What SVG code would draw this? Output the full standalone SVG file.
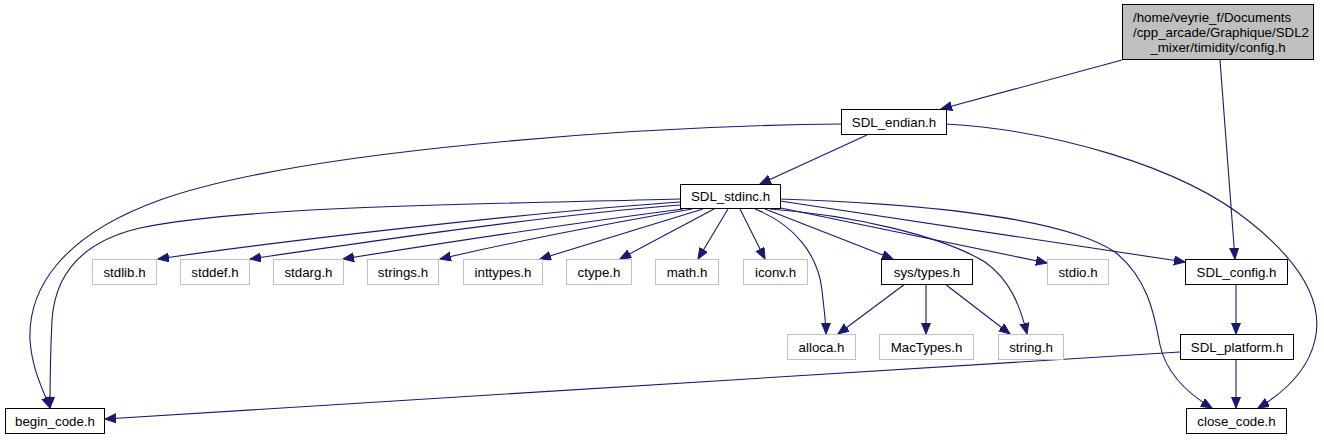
<svg xmlns="http://www.w3.org/2000/svg" width="1324" height="440" viewBox="0 0 1324 440">
<style>
.n rect{fill:#fff;stroke:#000;stroke-width:1}
.g rect{fill:#fff;stroke:#bfbfbf;stroke-width:1}
.r rect{fill:#bfbfbf;stroke:#000;stroke-width:1}
text{font-family:"Liberation Sans",Arial,sans-serif;font-size:13.3px;fill:#000}
.c{text-anchor:middle}
#edges path{fill:none;stroke:#191970;stroke-width:1.1}
</style>
<defs>
<marker id="ah" markerUnits="userSpaceOnUse" markerWidth="12" markerHeight="10" refX="11" refY="4.5" orient="auto">
<path d="M0,0 L11,4.5 L0,9 z" fill="#191970" stroke="#191970" stroke-width="1"/>
</marker>
</defs>
<rect width="1324" height="440" fill="#fff"/>
<g id="edges">
<path marker-end="url(#ah)" d="M1122,60 L941,109"/>
<path marker-end="url(#ah)" d="M1220,60 L1235,259"/>
<path marker-end="url(#ah)" d="M841,124 C640,126 300,150 160,200 C60,236 28,290 30,340 C32,370 44,392 50,408"/>
<path marker-end="url(#ah)" d="M680,199 C500,204 250,205 140,228 C80,242 55,275 52,320 C50,360 50,390 50,408"/>
<path marker-end="url(#ah)" d="M946,124 C1050,130 1180,165 1250,222 C1310,270 1322,310 1315,340 C1308,370 1285,392 1258,408"/>
<path marker-end="url(#ah)" d="M867,135 L760,184"/>
<path marker-end="url(#ah)" d="M680,202 C560,210 300,238 158,259"/>
<path marker-end="url(#ah)" d="M680,205 C550,215 380,240 250,259"/>
<path marker-end="url(#ah)" d="M683,209 C560,225 430,245 343,259"/>
<path marker-end="url(#ah)" d="M692,209 C600,225 500,245 440,259"/>
<path marker-end="url(#ah)" d="M703,209 L540,259"/>
<path marker-end="url(#ah)" d="M714,209 L620,259"/>
<path marker-end="url(#ah)" d="M728,209 L698,259"/>
<path marker-end="url(#ah)" d="M740,209 L765,259"/>
<path marker-end="url(#ah)" d="M755,209 C795,225 818,255 822,290 C824,310 826,322 826,334"/>
<path marker-end="url(#ah)" d="M765,209 L893,259"/>
<path marker-end="url(#ah)" d="M776,207 L1047,263"/>
<path marker-end="url(#ah)" d="M780,201 L1185,262"/>
<path marker-end="url(#ah)" d="M770,209 C850,215 940,235 985,262 C1010,280 1020,305 1027,334"/>
<path marker-end="url(#ah)" d="M780,199 C900,203 1060,215 1115,252 C1150,280 1155,320 1160,345 C1166,372 1185,392 1212,408"/>
<path marker-end="url(#ah)" d="M905,284 L838,334"/>
<path marker-end="url(#ah)" d="M926,284 L926,334"/>
<path marker-end="url(#ah)" d="M945,284 L1010,334"/>
<path marker-end="url(#ah)" d="M1236,284 L1236,334"/>
<path marker-end="url(#ah)" d="M1236,359 L1236,408"/>
<path marker-end="url(#ah)" d="M1180,352 L105,419"/>
</g>
<g id="config" class="r"><rect x="1122.5" y="4.5" width="191" height="55"/><text x="1133" y="22">/home/veyrie_f/Documents</text><text x="1133" y="37">/cpp_arcade/Graphique/SDL2</text><text class="c" x="1218" y="52">_mixer/timidity/config.h</text></g>
<g id="sdl_endian" class="n"><rect x="841.5" y="109.5" width="105" height="25"/><text class="c" x="894" y="126.5">SDL_endian.h</text></g>
<g id="sdl_stdinc" class="n"><rect x="680.5" y="184.5" width="100" height="24"/><text class="c" x="730.5" y="201">SDL_stdinc.h</text></g>
<g id="stdlib" class="g"><rect x="92.5" y="259.5" width="64" height="25"/><text class="c" x="124.5" y="276.5">stdlib.h</text></g>
<g id="stddef" class="g"><rect x="180.5" y="259.5" width="69" height="25"/><text class="c" x="215" y="276.5">stddef.h</text></g>
<g id="stdarg" class="g"><rect x="273.5" y="259.5" width="70" height="25"/><text class="c" x="308.5" y="276.5">stdarg.h</text></g>
<g id="strings" class="g"><rect x="367.5" y="259.5" width="71" height="25"/><text class="c" x="403" y="276.5">strings.h</text></g>
<g id="inttypes" class="g"><rect x="463.5" y="259.5" width="79" height="25"/><text class="c" x="503" y="276.5">inttypes.h</text></g>
<g id="ctype" class="g"><rect x="566.5" y="259.5" width="65" height="25"/><text class="c" x="599" y="276.5">ctype.h</text></g>
<g id="math" class="g"><rect x="655.5" y="259.5" width="63" height="25"/><text class="c" x="687" y="276.5">math.h</text></g>
<g id="iconv" class="g"><rect x="743.5" y="259.5" width="64" height="25"/><text class="c" x="775.5" y="276.5">iconv.h</text></g>
<g id="sys_types" class="n"><rect x="881.5" y="259.5" width="91" height="25"/><text class="c" x="927" y="276.5">sys/types.h</text></g>
<g id="stdio" class="g"><rect x="1047.5" y="259.5" width="61" height="25"/><text class="c" x="1078" y="276.5">stdio.h</text></g>
<g id="sdl_config" class="n"><rect x="1185.5" y="259.5" width="102" height="25"/><text class="c" x="1236.5" y="276.5">SDL_config.h</text></g>
<g id="alloca" class="g"><rect x="787.5" y="334.5" width="68" height="25"/><text class="c" x="821.5" y="351.5">alloca.h</text></g>
<g id="mactypes" class="g"><rect x="879.5" y="334.5" width="94" height="25"/><text class="c" x="926.5" y="351.5">MacTypes.h</text></g>
<g id="string" class="g"><rect x="998.5" y="334.5" width="65" height="25"/><text class="c" x="1031" y="351.5">string.h</text></g>
<g id="sdl_platform" class="n"><rect x="1180.5" y="334.5" width="113" height="25"/><text class="c" x="1237" y="351.5">SDL_platform.h</text></g>
<g id="begin_code" class="n"><rect x="5.5" y="408.5" width="99" height="25"/><text class="c" x="55" y="425.5">begin_code.h</text></g>
<g id="close_code" class="n"><rect x="1186.5" y="408.5" width="100" height="25"/><text class="c" x="1236.5" y="425.5">close_code.h</text></g>
</svg>
